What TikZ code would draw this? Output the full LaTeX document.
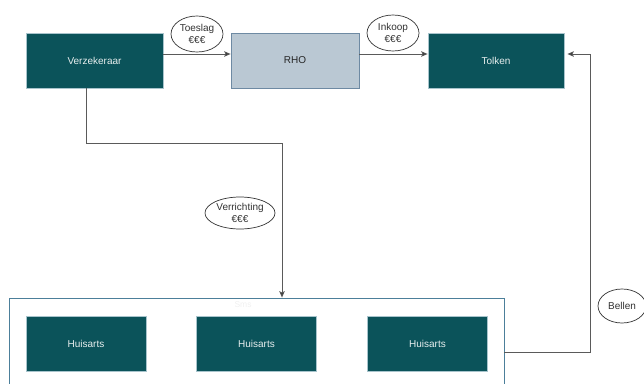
\documentclass[tikz,border=0pt]{standalone}
\usepackage{fontspec}
\setmainfont{Liberation Sans}
\usepackage{xcolor}
\usepackage{tikz}
\usetikzlibrary{shapes.geometric, arrows.meta, positioning, calc}
\definecolor{teal1}{HTML}{0B535A}
\definecolor{tealrand}{HTML}{A8C4CC}
\definecolor{rhofill}{HTML}{BAC8D3}
\definecolor{rhorand}{HTML}{6E8AA3}
\definecolor{praktrand}{HTML}{4C7F9A}
\definecolor{lijn}{HTML}{5A5A5A}
\tikzstyle{arrow} = [line width=0.9pt, draw=lijn, -{Stealth[length=6.5pt, width=5.5pt, inset=1.5pt, fill=black]}]
\tikzstyle{partij} = [rectangle, minimum height=55pt, draw=tealrand, line width=0.8pt, fill=teal1, text=white!90!teal1, font=\fontsize{10}{12}\selectfont, inner sep=0pt]
\tikzstyle{geld} = [ellipse, draw=black!80, line width=0.7pt, fill=white, text=black!80, align=center, inner sep=0pt, font=\fontsize{10}{11.5}\selectfont]

\begin{document}
\begin{tikzpicture}[x=1pt, y=-1pt]
    \useasboundingbox (0,0) rectangle (644,383);

    % Bovenste rij
    \node[partij, minimum width=137pt] (verz) at (94.5,60.5) {Verzekeraar};
    \node[partij, minimum width=128pt, fill=rhofill, draw=rhorand, text=black!85] (rho) at (295,60.5) {RHO};
    \node[partij, minimum width=136pt] (tolken) at (496,60.5) {Tolken};

    % Praktijken (onderaan afgesneden)
    \node[rectangle, draw=praktrand, line width=0.8pt, minimum width=495pt, minimum height=104pt, inner sep=0pt] (prakt) at (256.5,350) {};
    \node[font=\fontsize{8.5}{10}\selectfont, text=black!6] (sms) at (243,305) {Sms};
    \node[partij, minimum width=120pt] (huis1) at (86,343.5) {Huisarts};
    \node[partij, minimum width=120pt] (huis2) at (256.5,343.5) {Huisarts};
    \node[partij, minimum width=120pt] (huis3) at (427.5,343.5) {Huisarts};

    % Geldstromen
    \node[geld, minimum width=52pt, minimum height=36pt] (toeslag) at (197,34) {Toeslag\\€€€};
    \node[geld, minimum width=52pt, minimum height=36pt] (inkoop) at (393,33) {Inkoop\\€€€};
    \node[geld, minimum width=70pt, minimum height=32pt] (verr) at (240,213) {Verrichting\\€€€};
    \node[geld, minimum width=48pt, minimum height=34pt] (bellen) at (622,306) {Bellen};

    % Pijlen
    \draw[arrow] ([yshift=6.5pt]verz.east) -- ([yshift=6.5pt]rho.west);
    \draw[arrow] ([yshift=6.5pt]rho.east) -- ([yshift=6.5pt]tolken.west);

    \coordinate (knik) at (282,143);
    \draw[arrow] ([xshift=-8.5pt]verz.south) |- (knik) -- (knik |- prakt.north);

    \coordinate (uit) at (504,352);
    \coordinate (hoek) at (590,54);
    \draw[arrow] (uit) -| (hoek) -- ([yshift=6.5pt,xshift=3pt]tolken.east);
\end{tikzpicture}
\end{document}
